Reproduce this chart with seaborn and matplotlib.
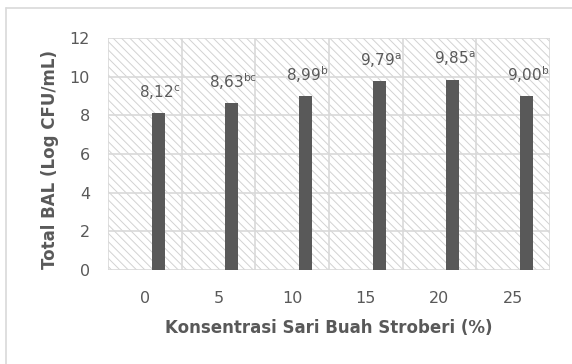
import matplotlib
matplotlib.use("Agg")
import matplotlib.pyplot as plt
import seaborn as sns
from matplotlib.patches import Rectangle
from matplotlib.lines import Line2D
from matplotlib.ticker import FixedLocator

categories = ["0", "5", "10", "15", "20", "25"]
values = [8.12, 8.63, 8.99, 9.79, 9.85, 9.00]
letters = ["c", "bc", "b", "a", "a", "b"]
yticks = [0, 2, 4, 6, 8, 10, 12]

TXT = "#595959"
GRID = "#d9d9d9"

sns.set_theme(style="white")
plt.rcParams["font.family"] = ["DejaVu Sans"]
plt.rcParams["mathtext.fontset"] = "dejavusans"
plt.rcParams["hatch.color"] = "#d2d2d2"
plt.rcParams["hatch.linewidth"] = 0.7

fig = plt.figure(figsize=(5.72, 3.64), dpi=100)
ax = fig.add_axes([108 / 572, 1 - 270 / 364, 442 / 572, 232 / 364])

sns.barplot(x=categories, y=values, order=categories, color=TXT, saturation=1,
            width=0.176, ax=ax, zorder=3)
offset = 0.183
for p in ax.patches:
    p.set_x(p.get_x() + offset)
    p.set_linewidth(0)

# hatched plot background
ax.add_patch(Rectangle((0, 0), 1, 1, transform=ax.transAxes, facecolor="white",
                       edgecolor="#d2d2d2", hatch="\\\\\\\\", linewidth=0, zorder=0))

ax.set_xlim(-0.5, len(categories) - 0.5)
ax.set_ylim(0, 12)
ax.set_yticks(yticks)
ax.set_yticklabels([str(t) for t in yticks])
ax.xaxis.set_minor_locator(FixedLocator([i - 0.5 for i in range(len(categories) + 1)]))

ax.grid(True, axis="y", which="major", color=GRID, linewidth=1.2, zorder=1)
ax.grid(True, axis="x", which="minor", color=GRID, linewidth=1.2, zorder=1)
ax.grid(False, axis="x", which="major")
ax.set_axisbelow(True)
for s in ax.spines.values():
    s.set_visible(False)

ax.tick_params(axis="x", which="major", length=0, pad=15, labelsize=11.5, labelcolor=TXT)
ax.tick_params(axis="x", which="minor", length=5, width=1.2, color=GRID, direction="out")
ax.tick_params(axis="y", which="major", length=0, pad=13, labelsize=11.5, labelcolor=TXT)

for i, (v, l) in enumerate(zip(values, letters)):
    lab = f"{v:.2f}".replace(".", ",") + r"$^{\mathrm{" + l + "}}$"
    ax.annotate(lab, xy=(i + offset, v), xytext=(1, 8), textcoords="offset points",
                ha="center", va="bottom", fontsize=11, color=TXT, zorder=4)

ax.set_xlabel("Konsentrasi Sari Buah Stroberi (%)", fontsize=12, fontweight="bold", color=TXT)
ax.set_ylabel("Total BAL (Log CFU/mL)", fontsize=12, fontweight="bold", color=TXT)
ax.xaxis.set_label_coords(0.5, (270 - 328) / 232)
ax.xaxis.label.set_va("center")
ax.yaxis.set_label_coords((50 - 108) / 442, 0.476)
ax.yaxis.label.set_va("center")

# chart border (cropped at right/bottom)
fig.add_artist(Line2D([6 / 572, 1], [1 - 8 / 364, 1 - 8 / 364], color=GRID,
                      linewidth=1.2, transform=fig.transFigure))
fig.add_artist(Line2D([6 / 572, 6 / 572], [0, 1 - 8 / 364], color=GRID,
                      linewidth=1.2, transform=fig.transFigure))

fig.savefig("out.png", dpi=100)
